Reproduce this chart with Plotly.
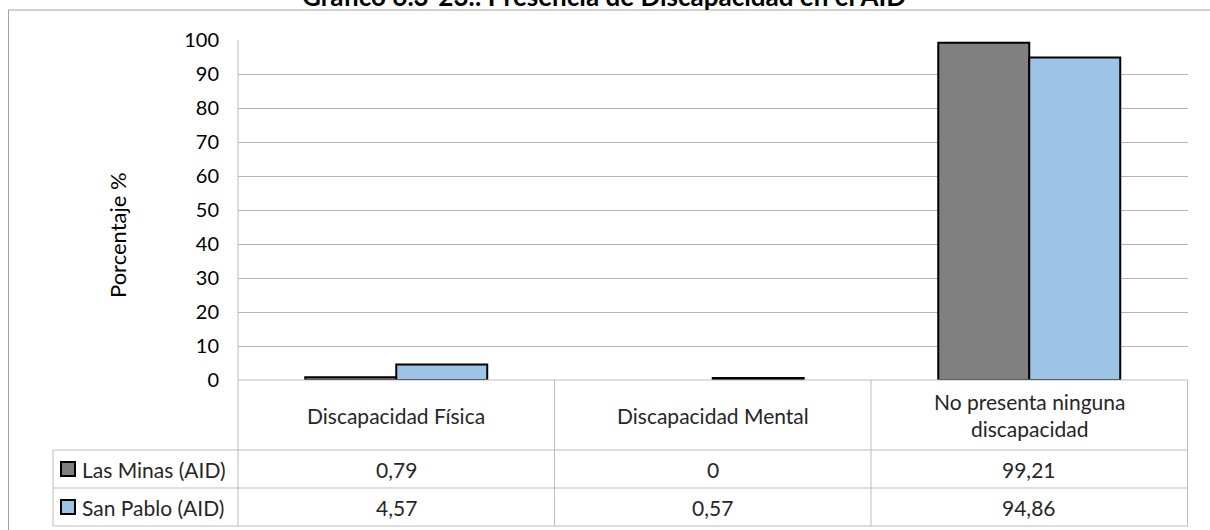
import plotly.graph_objects as go

title = "Gráfico 6.3-23.: Presencia de Discapacidad en el AID"
categories = ["Discapacidad Física", "Discapacidad Mental", "No presenta ninguna<br>discapacidad"]
series_names = ["Las Minas (AID)", "San Pablo (AID)"]
las_minas = [0.79, 0, 99.21]
san_pablo = [4.57, 0.57, 94.86]
y_ticks = [0, 10, 20, 30, 40, 50, 60, 70, 80, 90, 100]
colors = ["#808080", "#9DC3E6"]

W, H = 1210, 530
FONT = "Lato"
GRID = "#B4B4B4"
TBL = "#BDBDBD"
FS = 21

def px_x(x):
    return x / W

def px_y(y):
    return 1 - y / H

plot_l, plot_r, plot_t, plot_b = 238, 1188, 40, 380
row1_t, row2_t, tbl_b = 450, 488, 526
leg_l = 53

fig = go.Figure()
for name, vals, col in zip(series_names, [las_minas, san_pablo], colors):
    fig.add_trace(go.Bar(
        x=categories, y=vals, name=name,
        marker=dict(color=col, line=dict(color="black", width=[2 if v > 0 else 0 for v in vals])),
        showlegend=False, hoverinfo="skip",
    ))

shapes = []
# outer frame
shapes.append(dict(type="line", xref="paper", yref="paper", x0=px_x(8), x1=px_x(1210), y0=px_y(10), y1=px_y(10),
                   line=dict(color="#A0A0A0", width=1)))
shapes.append(dict(type="line", xref="paper", yref="paper", x0=px_x(8.5), x1=px_x(8.5), y0=px_y(10), y1=px_y(530),
                   line=dict(color="#A0A0A0", width=1)))
# left axis line through table
shapes.append(dict(type="line", xref="paper", yref="paper", x0=px_x(plot_l), x1=px_x(plot_l), y0=px_y(plot_t), y1=px_y(tbl_b),
                   line=dict(color=TBL, width=1)))
# table horizontal lines
for yy, x0 in [(plot_b, plot_l), (row1_t, leg_l), (row2_t, leg_l), (tbl_b, leg_l)]:
    shapes.append(dict(type="line", xref="paper", yref="paper", x0=px_x(x0), x1=px_x(plot_r), y0=px_y(yy), y1=px_y(yy),
                       line=dict(color=TBL, width=1)))
# legend column left border
shapes.append(dict(type="line", xref="paper", yref="paper", x0=px_x(leg_l), x1=px_x(leg_l), y0=px_y(row1_t), y1=px_y(tbl_b),
                   line=dict(color=TBL, width=1)))
# column separators at category boundaries (computed from axis categories)
for i in range(len(categories)):
    shapes.append(dict(type="line", xref="x", yref="paper", x0=i + 0.5, x1=i + 0.5, y0=px_y(plot_b), y1=px_y(tbl_b),
                       line=dict(color=TBL, width=1)))

annotations = []
annotations.append(dict(text="<b>" + title + "</b>", xref="paper", yref="paper", x=px_x(604), y=px_y(14),
                        xanchor="center", yanchor="bottom", showarrow=False,
                        font=dict(family=FONT, size=26, color="black")))
annotations.append(dict(text="Porcentaje %", xref="paper", yref="paper", x=px_x(117), y=px_y(235),
                        textangle=-90, xanchor="center", yanchor="middle", showarrow=False,
                        font=dict(family=FONT, size=22, color="black")))
for cat in categories:
    annotations.append(dict(text=cat, xref="x", yref="paper", x=cat, y=px_y((plot_b + row1_t) / 2),
                            xanchor="center", yanchor="middle", showarrow=False,
                            font=dict(family=FONT, size=FS, color="#262626")))

def fmt(v):
    return f"{v:g}".replace(".", ",")

row_tops = [row1_t, row2_t]
row_bots = [row2_t, tbl_b]
for name, vals, col, rt, rb in zip(series_names, [las_minas, san_pablo], colors, row_tops, row_bots):
    yc = (rt + rb) / 2
    for cat, v in zip(categories, vals):
        annotations.append(dict(text=fmt(v), xref="x", yref="paper", x=cat, y=px_y(yc),
                                xanchor="center", yanchor="middle", showarrow=False,
                                font=dict(family=FONT, size=FS, color="#262626")))
    shapes.append(dict(type="rect", xref="paper", yref="paper", x0=px_x(61), x1=px_x(75), y0=px_y(yc - 7), y1=px_y(yc + 7),
                       fillcolor=col, line=dict(color="black", width=2)))
    annotations.append(dict(text=name, xref="paper", yref="paper", x=px_x(80), y=px_y(yc),
                            xanchor="left", yanchor="middle", showarrow=False,
                            font=dict(family=FONT, size=FS, color="#262626")))

fig.update_layout(
    width=W, height=H,
    margin=dict(l=0, r=0, t=0, b=0, autoexpand=False),
    paper_bgcolor="white", plot_bgcolor="white",
    barmode="group", bargap=0.425, bargroupgap=0,
    hovermode=False,
    xaxis=dict(domain=[px_x(plot_l), px_x(plot_r)], showticklabels=False, showgrid=False,
               zeroline=False, showline=False, ticks=""),
    yaxis=dict(domain=[px_y(plot_b), px_y(plot_t)], range=[0, 100], tickvals=y_ticks,
               showgrid=True, gridcolor=GRID, gridwidth=1, zeroline=False, showline=False,
               ticks="", ticklabelstandoff=18,
               tickfont=dict(family=FONT, size=20, color="black")),
    shapes=shapes, annotations=annotations,
)

fig.write_html("out.html", config={"displayModeBar": False},
               post_script="document.body.style.margin='0';document.body.style.overflow='hidden';")
